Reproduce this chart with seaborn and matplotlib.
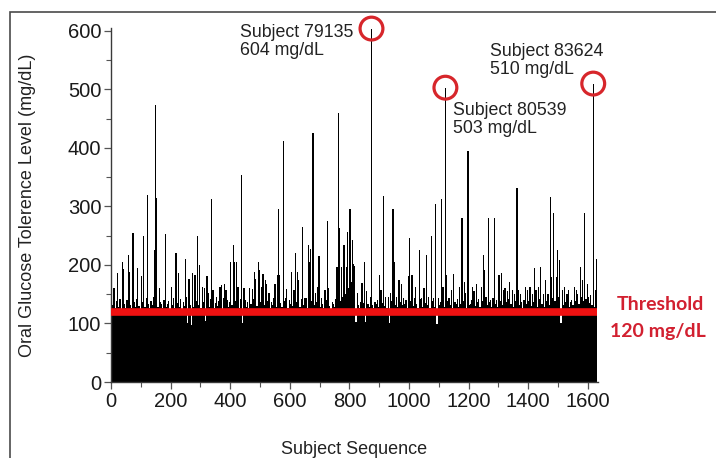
import numpy as np
import pandas as pd
import matplotlib
matplotlib.use("Agg")
import matplotlib.pyplot as plt
import seaborn as sns
from matplotlib.patches import Rectangle
from matplotlib.ticker import MultipleLocator

# ---- data (one value per drawn bar; each bar spans 4 consecutive subjects,
#      i.e. roughly one pixel column of the original chart) ----
glucose = [
    166, 131, 160, 127, 138, 186, 129, 142, 125, 205, 193, 133, 127, 140, 217, 188,
    132, 126, 254, 136, 129, 141, 194, 130, 124, 181, 137, 250, 128, 143, 320, 134,
    126, 139, 131, 146, 225, 473, 315, 129, 160, 136, 134, 127, 140, 253, 128, 133,
    138, 125, 162, 131, 144, 127, 220, 135, 186, 129, 141, 124, 136, 130, 210, 146,
    101, 176, 132, 98, 186, 128, 183, 139, 250, 131, 200, 126, 162, 137, 160, 104,
    181, 152, 129, 141, 312, 158, 127, 135, 146, 130, 138, 162, 166, 125, 143, 168,
    158, 140, 128, 136, 205, 131, 234, 205, 139, 205, 162, 127, 142, 354, 100, 160,
    140, 129, 137, 126, 160, 133, 159, 141, 188, 176, 130, 205, 191, 136, 162, 184,
    132, 174, 168, 139, 152, 127, 137, 131, 143, 168, 128, 183, 295, 183, 135, 129,
    412, 138, 143, 159, 126, 140, 133, 188, 130, 158, 220, 137, 188, 174, 128, 141,
    265, 132, 143, 143, 127, 234, 205, 228, 139, 426, 131, 152, 136, 162, 216, 129,
    143, 134, 126, 158, 140, 275, 160, 130, 125, 137, 134, 128, 142, 196, 459, 264,
    138, 196, 145, 234, 150, 196, 256, 160, 295, 171, 242, 201, 199, 102, 152, 131,
    127, 137, 170, 135, 205, 103, 155, 134, 129, 146, 604, 131, 126, 137, 133, 140,
    128, 183, 158, 135, 318, 130, 146, 127, 146, 101, 152, 139, 296, 205, 132, 146,
    129, 174, 136, 168, 131, 143, 134, 140, 127, 181, 246, 138, 183, 130, 144, 162,
    133, 127, 225, 141, 143, 129, 160, 135, 217, 131, 146, 126, 250, 139, 143, 128,
    304, 99, 143, 132, 137, 312, 162, 129, 503, 183, 138, 143, 131, 158, 127, 184,
    136, 134, 141, 129, 162, 133, 281, 138, 171, 152, 127, 395, 131, 134, 140, 162,
    155, 130, 168, 136, 141, 128, 162, 139, 217, 191, 145, 132, 281, 137, 140, 129,
    143, 281, 134, 140, 128, 183, 139, 186, 131, 158, 160, 136, 155, 142, 171, 133,
    157, 129, 150, 138, 332, 157, 131, 151, 136, 127, 140, 163, 133, 157, 139, 163,
    130, 151, 137, 194, 157, 128, 163, 141, 197, 134, 151, 129, 174, 138, 150, 132,
    317, 180, 143, 289, 139, 180, 225, 146, 209, 100, 157, 131, 163, 137, 151, 157,
    128, 136, 140, 131, 163, 139, 157, 151, 133, 197, 145, 174, 138, 289, 142, 168,
    146, 135, 148, 131, 510, 129, 157, 210,
]
subjects_per_bar = 4
subject_seq = np.arange(len(glucose)) * subjects_per_bar + subjects_per_bar / 2

threshold = 120
highlight_bar = [218, 280, 404]
highlight_id = ["79135", "80539", "83624"]

x_ticks_major = [0, 200, 400, 600, 800, 1000, 1200, 1400, 1600]
y_ticks_major = [0, 100, 200, 300, 400, 500, 600]

df = pd.DataFrame({"subject": subject_seq, "glucose": glucose})

# ---- style ----
sns.set_style("ticks")
plt.rcParams["font.family"] = ["Liberation Sans", "DejaVu Sans"]

fig = plt.figure(figsize=(7.16, 4.58), dpi=100)
ax = fig.add_axes([111 / 716, 76 / 458, 487 / 716, 354 / 458])

sns.barplot(data=df, x="subject", y="glucose", native_scale=True,
            color="black", saturation=1, width=1.0,
            edgecolor="black", linewidth=0, ax=ax)
for p in ax.patches:
    p.set_antialiased(False)

ax.set_xlim(0, 1634)
ax.set_ylim(0, 605)

# threshold line
ax.hlines(threshold, 0, subject_seq[-1] + 2, color="#ef1111", lw=5.5, zorder=5)

# axes styling
for side in ["top", "right"]:
    ax.spines[side].set_visible(False)
for side in ["left", "bottom"]:
    ax.spines[side].set_color("#3a3a3a")
    ax.spines[side].set_linewidth(1.0)

ax.set_xticks(x_ticks_major)
ax.set_xticklabels([str(t) for t in x_ticks_major])
ax.xaxis.set_minor_locator(MultipleLocator(100))
ax.set_yticks(y_ticks_major)
ax.set_yticklabels([str(t) for t in y_ticks_major])
ax.yaxis.set_minor_locator(MultipleLocator(50))
ax.tick_params(axis="both", which="major", direction="out", length=5, width=0.9,
               color="#555555", labelsize=14.5, labelcolor="#1a1a1a", pad=2)
ax.tick_params(axis="both", which="minor", direction="out", length=3.5, width=0.8,
               color="#555555")

ax.set_ylabel("Oral Glucose Tolerence Level (mg/dL)", fontsize=13, color="#222222")
ax.yaxis.set_label_coords(-0.155, 0.5)
ax.set_xlabel("Subject Sequence", fontsize=13, color="#222222")
ax.xaxis.set_label_coords(0.5, -0.168)

# highlighted subjects
hx = [subject_seq[i] for i in highlight_bar]
hy = [glucose[i] for i in highlight_bar]
ax.scatter(hx, hy, s=270, facecolors="none", edgecolors="#d7262b",
           linewidths=2.3, zorder=6, clip_on=False)
offsets = [(-131, -13), (8, -32), (-103, 23)]
for x, y, sid, off in zip(hx, hy, highlight_id, offsets):
    ax.annotate(f"Subject {sid}\n{y} mg/dL", xy=(x, y), xytext=off,
                textcoords="offset pixels", ha="left", va="center",
                fontsize=12.8, color="#222222", linespacing=1.12,
                annotation_clip=False)

# threshold label (outside the axes, right side)
fig.text(660 / 716, 1 - 305 / 458, "Threshold", ha="center", va="center",
         fontsize=14, fontweight="bold", color="#d22030", family=["Lato", "DejaVu Sans"])
fig.text(658 / 716, 1 - 332 / 458, f"{threshold} mg/dL", ha="center", va="center",
         fontsize=14, fontweight="bold", color="#d22030", family=["Lato", "DejaVu Sans"])

# outer frame of the original picture
fig.patches.append(Rectangle((10 / 716, -0.5), 2.0, 0.5 + 1 - 12 / 458,
                             transform=fig.transFigure, fill=False,
                             edgecolor="#4a4a4a", linewidth=1.2))

fig.savefig("out.png", dpi=100)
